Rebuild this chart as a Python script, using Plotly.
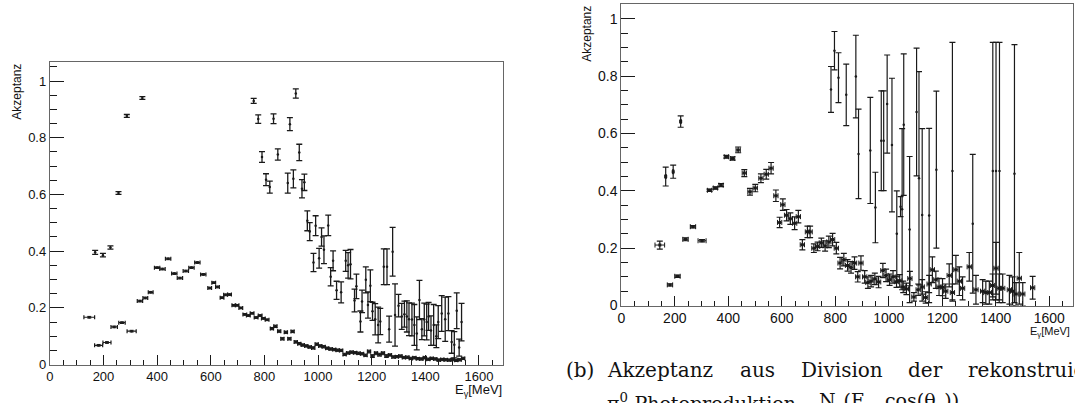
import plotly.graph_objects as go

W, H = 1075, 403

# ---------------- Left panel data ----------------
# series A (wide bins, horizontal errors)
a_x = [147, 182, 213, 240, 269, 305, 336, 356, 376, 400, 420, 441, 464, 485, 507, 528, 550, 572,
       596, 611, 625, 642, 655, 670, 686, 698, 712, 727, 740, 754, 769, 784, 796, 810, 828, 841,
       855, 867, 880, 893, 905, 917, 930, 943, 956, 969, 982, 995, 1008, 1021, 1034, 1047, 1060,
       1073, 1086, 1099, 1112, 1125, 1138, 1151, 1164, 1177, 1190, 1203, 1216, 1229, 1242, 1255,
       1268, 1281, 1294, 1307, 1320, 1333, 1346, 1359, 1372, 1385, 1398, 1411, 1424, 1437, 1450,
       1463, 1476, 1489, 1502, 1515, 1528, 1541]
a_y = [0.167, 0.068, 0.078, 0.133, 0.148, 0.118, 0.224, 0.235, 0.255, 0.342, 0.337, 0.373, 0.321,
       0.305, 0.330, 0.342, 0.360, 0.318, 0.270, 0.289, 0.274, 0.236, 0.246, 0.247, 0.209, 0.209,
       0.200, 0.177, 0.173, 0.181, 0.166, 0.173, 0.163, 0.158, 0.127, 0.135, 0.118, 0.091, 0.114,
       0.091, 0.117, 0.080, 0.074, 0.069, 0.066, 0.062, 0.059, 0.072, 0.066, 0.063, 0.058, 0.055,
       0.053, 0.051, 0.050, 0.036, 0.041, 0.044, 0.042, 0.040, 0.038, 0.033, 0.046, 0.030, 0.040,
       0.035, 0.040, 0.030, 0.034, 0.027, 0.028, 0.030, 0.025, 0.026, 0.022, 0.024, 0.021, 0.020,
       0.024, 0.019, 0.022, 0.020, 0.016, 0.018, 0.017, 0.016, 0.018, 0.015, 0.017, 0.022]
a_xerr = [20, 15, 15, 12, 12, 17, 10, 9, 9, 10, 10, 10, 10, 10, 10, 10, 10, 10] + [7] * 16 + [6] * 56
a_yerr = [0.003] * 34 + [0.004] * 28 + [0.005] * 6 + [0.004] * 22

# series B (vertical errors)
b_x = [169, 198, 226, 256, 287, 345, 760, 777, 791, 806, 820, 834, 850, 887, 895, 908, 917, 930,
       940, 949, 960, 969, 983, 991, 1004, 1013, 1022, 1038, 1047, 1056, 1069, 1086, 1103, 1112,
       1121, 1136, 1143, 1158, 1164, 1178, 1186, 1195, 1203, 1213, 1224, 1232, 1245, 1257, 1265,
       1278, 1287, 1300, 1312, 1322, 1331, 1339, 1350, 1359, 1368, 1378, 1387, 1396, 1405, 1412,
       1421, 1431, 1441, 1448, 1461, 1474, 1486, 1498, 1508, 1517, 1526, 1535]
b_y = [0.396, 0.386, 0.413, 0.605, 0.877, 0.940, 0.930, 0.866, 0.732, 0.652, 0.626, 0.867, 0.741,
       0.640, 0.848, 0.655, 0.956, 0.748, 0.620, 0.643, 0.507, 0.469, 0.360, 0.490, 0.375, 0.450,
       0.405, 0.491, 0.310, 0.366, 0.262, 0.255, 0.366, 0.350, 0.354, 0.226, 0.276, 0.152, 0.223,
       0.299, 0.210, 0.278, 0.188, 0.160, 0.140, 0.152, 0.345, 0.345, 0.125, 0.398, 0.175, 0.208,
       0.170, 0.178, 0.170, 0.160, 0.159, 0.140, 0.110, 0.228, 0.125, 0.159, 0.150, 0.170, 0.120,
       0.140, 0.100, 0.150, 0.180, 0.160, 0.180, 0.080, 0.070, 0.190, 0.060, 0.150]
b_yerr = [0.007, 0.006, 0.006, 0.005, 0.005, 0.005, 0.009, 0.015, 0.019, 0.021, 0.021, 0.017, 0.020,
          0.035, 0.023, 0.032, 0.016, 0.029, 0.032, 0.029, 0.035, 0.032, 0.032, 0.035, 0.035, 0.032,
          0.049, 0.036, 0.032, 0.035, 0.032, 0.037, 0.037, 0.045, 0.052, 0.040, 0.043, 0.037, 0.040,
          0.046, 0.046, 0.056, 0.032, 0.055, 0.063, 0.046, 0.063, 0.063, 0.046, 0.086, 0.110, 0.040,
          0.046, 0.046, 0.055, 0.058, 0.058, 0.072, 0.058, 0.069, 0.037, 0.058, 0.063, 0.049, 0.052,
          0.072, 0.040, 0.058, 0.063, 0.078, 0.060, 0.040, 0.046, 0.063, 0.030, 0.066]

# ---------------- Right panel data ----------------
r_x = [144, 166, 182, 194, 210, 222, 240, 268, 302, 330, 352, 373, 393, 416, 437, 460, 481, 501,
       522, 542, 560, 578, 592, 604, 618, 632, 648, 662, 677, 696, 706, 720, 734, 748, 762, 776,
       790, 804, 818, 832, 846, 859, 872, 884, 896, 910, 922, 934, 948, 962, 978, 990, 1003, 1016,
       1029, 1041, 1054, 1066, 1079, 1094, 1110, 1125, 1138, 1151, 1163, 1176, 1188, 1201, 1213,
       1226, 1238, 1251, 1264, 1276, 1301, 1326, 1351, 1363, 1376, 1388, 1401, 1413, 1426, 1451,
       1463, 1476, 1488, 1501, 1538]
r_y = [0.211, 0.450, 0.072, 0.467, 0.102, 0.642, 0.231, 0.275, 0.226, 0.402, 0.410, 0.420, 0.519,
       0.513, 0.543, 0.462, 0.397, 0.410, 0.444, 0.458, 0.479, 0.383, 0.290, 0.352, 0.315, 0.303,
       0.287, 0.310, 0.212, 0.257, 0.257, 0.200, 0.206, 0.219, 0.208, 0.222, 0.230, 0.200, 0.148,
       0.160, 0.140, 0.133, 0.148, 0.100, 0.148, 0.100, 0.080, 0.085, 0.093, 0.082, 0.122, 0.105,
       0.090, 0.100, 0.083, 0.086, 0.065, 0.058, 0.094, 0.030, 0.055, 0.065, 0.028, 0.075, 0.125,
       0.090, 0.065, 0.064, 0.050, 0.105, 0.045, 0.125, 0.085, 0.060, 0.135, 0.055, 0.050, 0.045,
       0.045, 0.070, 0.130, 0.060, 0.060, 0.055, 0.050, 0.040, 0.095, 0.040, 0.062]
r_xerr = [18, 2, 10, 2, 10, 2, 10, 10, 15, 8, 8, 8, 8, 8, 8, 8, 8, 8] + [8] * 71
r_yerr = [0.014, 0.033, 0.004, 0.023, 0.004, 0.020, 0.005, 0.004, 0.004, 0.004, 0.004, 0.005,
          0.005, 0.006, 0.010, 0.012, 0.012, 0.013, 0.015, 0.017, 0.020, 0.020, 0.018, 0.020,
          0.020, 0.020, 0.022, 0.022, 0.018, 0.020, 0.020, 0.015, 0.015, 0.016, 0.018, 0.020,
          0.022, 0.020, 0.020, 0.022, 0.020, 0.020, 0.022, 0.018, 0.025, 0.022, 0.020, 0.020,
          0.020, 0.020, 0.025, 0.022, 0.020, 0.022, 0.020, 0.022, 0.020, 0.020, 0.025, 0.015,
          0.020, 0.025, 0.020, 0.030, 0.045, 0.030, 0.030, 0.030, 0.025, 0.040, 0.030, 0.050,
          0.050, 0.040, 0.050, 0.050, 0.040, 0.040, 0.040, 0.040, 0.090, 0.050, 0.050, 0.050,
          0.050, 0.040, 0.090, 0.040, 0.040]

# large-uncertainty points (right panel)
t_x = [784, 797, 812, 841, 877, 887, 931, 950, 972, 981, 994, 1012, 1030, 1044, 1050, 1056, 1078,
       1104, 1113, 1125, 1151, 1178, 1238, 1314, 1389, 1401, 1414, 1470]
t_y = [0.754, 0.889, 0.795, 0.735, 0.799, 0.529, 0.541, 0.342, 0.575, 0.575, 0.703, 0.560, 0.250,
       0.345, 0.336, 0.631, 0.265, 0.675, 0.444, 0.316, 0.314, 0.474, 0.469, 0.285, 0.469, 0.469,
       0.469, 0.460]
t_yerr = [0.080, 0.067, 0.087, 0.107, 0.144, 0.156, 0.185, 0.123, 0.174, 0.174, 0.171, 0.233,
          0.150, 0.035, 0.281, 0.247, 0.255, 0.223, 0.372, 0.301, 0.304, 0.274, 0.449, 0.242,
          0.449, 0.449, 0.449, 0.450]

# ---------------- geometry (pixels) ----------------
L = dict(x0=46, x1=501, ytop=63, ybot=372)
R = dict(x0=619.6, x1=1073.3, ytop=4.5, ybot=311.7)


def dom_x(p):
    return [p['x0'] / W, p['x1'] / W]


def dom_y(p):
    return [1 - p['ybot'] / H, 1 - p['ytop'] / H]


INK = '#1a1a1a'
fig = go.Figure()

fig.add_trace(go.Scatter(
    x=a_x, y=a_y, mode='markers', xaxis='x', yaxis='y',
    marker=dict(size=2.5, color=INK),
    error_x=dict(type='data', array=a_xerr, color=INK, thickness=1.2, width=2),
    error_y=dict(type='data', array=a_yerr, color=INK, thickness=1, width=2),
    showlegend=False))
fig.add_trace(go.Scatter(
    x=b_x, y=b_y, mode='markers', xaxis='x', yaxis='y',
    marker=dict(size=2.5, color=INK),
    error_y=dict(type='data', array=b_yerr, color=INK, thickness=1.3, width=3),
    showlegend=False))
fig.add_trace(go.Scatter(
    x=r_x, y=r_y, mode='markers', xaxis='x2', yaxis='y2',
    marker=dict(size=3, color=INK, symbol='square'),
    error_x=dict(type='data', array=r_xerr, color=INK, thickness=1, width=2.5),
    error_y=dict(type='data', array=r_yerr, color=INK, thickness=1.2, width=3),
    showlegend=False))
fig.add_trace(go.Scatter(
    x=t_x, y=t_y, mode='markers', xaxis='x2', yaxis='y2',
    marker=dict(size=2.5, color=INK),
    error_y=dict(type='data', array=t_yerr, color=INK, thickness=1.2, width=3),
    showlegend=False))

FONT = 'Liberation Sans, Arial, sans-serif'


def xaxis(p, anchor, fs):
    return dict(domain=dom_x(p), anchor=anchor, range=[0, 1690], dtick=200, tick0=0,
                ticks='inside', ticklen=10, tickwidth=1, tickcolor=INK,
                minor=dict(dtick=50, ticks='inside', ticklen=5, tickcolor=INK, tickwidth=1),
                showline=True, linecolor='#666', linewidth=1, mirror=True,
                showgrid=False, zeroline=False,
                tickfont=dict(family=FONT, size=fs, color='#111'))


def yaxis(p, anchor, top, fs):
    return dict(domain=dom_y(p), anchor=anchor, range=[0, top], dtick=0.2, tick0=0,
                ticks='inside', ticklen=14, tickwidth=1, tickcolor=INK,
                minor=dict(dtick=0.05, ticks='inside', ticklen=7, tickcolor=INK, tickwidth=1),
                showline=True, linecolor='#666', linewidth=1, mirror=True,
                showgrid=False, zeroline=False,
                tickfont=dict(family=FONT, size=fs, color='#111'))


fig.update_layout(
    width=W, height=H, margin=dict(l=0, r=0, t=0, b=0),
    paper_bgcolor='white', plot_bgcolor='white',
    xaxis=xaxis(L, 'y', 13), yaxis=yaxis(L, 'x', 1.068, 13),
    xaxis2=xaxis(R, 'y2', 14), yaxis2=yaxis(R, 'x2', 1.0506, 14),
)


def px(x):
    return x / W


def py(y):
    return 1 - y / H


ann = []
# y axis titles
ann.append(dict(x=px(13), y=py(63), xref='paper', yref='paper', text='Akzeptanz', textangle=-90,
                showarrow=False, xanchor='center', yanchor='top',
                font=dict(family=FONT, size=12, color='#111')))
ann.append(dict(x=px(585), y=py(4), xref='paper', yref='paper', text='Akzeptanz', textangle=-90,
                showarrow=False, xanchor='center', yanchor='top',
                font=dict(family=FONT, size=12, color='#111')))
# x axis titles
ann.append(dict(x=px(502), y=py(388), xref='paper', yref='paper', text='E<sub>γ</sub>[MeV]',
                showarrow=False, xanchor='right', yanchor='top',
                font=dict(family=FONT, size=13, color='#111')))
ann.append(dict(x=px(1072), y=py(330), xref='paper', yref='paper', text='E<sub>γ</sub>[MeV]',
                showarrow=False, xanchor='right', yanchor='top',
                font=dict(family=FONT, size=11, color='#111')))

# caption (serif, justified words)
SERIF = 'DejaVu Serif, serif'
cap_words = [(562, '(b)'), (603, 'Akzeptanz'), (737, 'aus'), (798, 'Division'), (905, 'der'),
             (966, 'rekonstruierten')]
for xw, t in cap_words:
    ann.append(dict(x=px(xw), y=py(377), xref='paper', yref='paper', text=t, showarrow=False,
                    xanchor='left', yanchor='middle', font=dict(family=SERIF, size=20, color='#111')))
line2 = [(603, 'π<sup>0</sup>-Photoproduktion'), (816, 'N<sub>γ</sub>(E<sub>γ</sub>, cos(θ<sub>π</sub>))')]
for xw, t in line2:
    ann.append(dict(x=px(xw), y=py(410), xref='paper', yref='paper', text=t, showarrow=False,
                    xanchor='left', yanchor='middle', font=dict(family=SERIF, size=19, color='#111')))

fig.update_layout(annotations=ann)
fig.write_html('out.html')
